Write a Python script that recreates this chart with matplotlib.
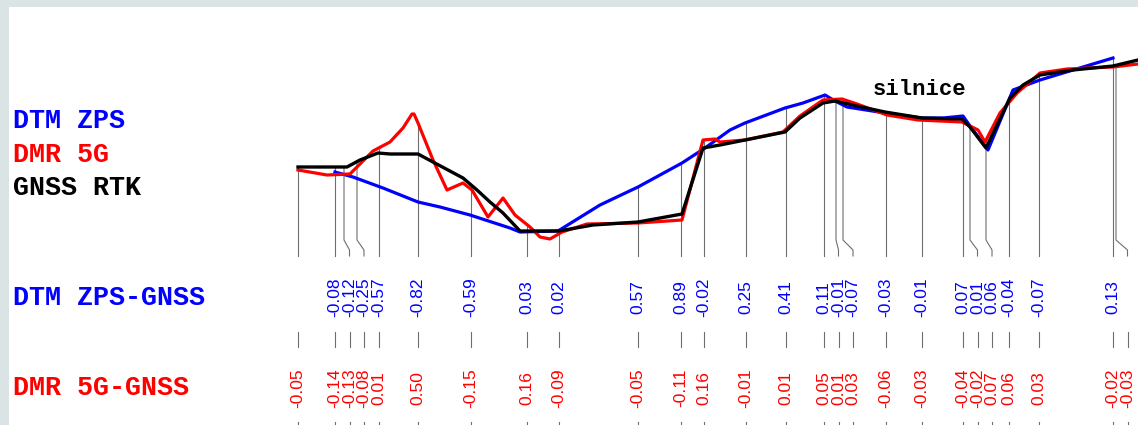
import numpy as np
import matplotlib
matplotlib.use("Agg")
import matplotlib.pyplot as plt

# ── podélný profil: staničení [m], výška [m] ─────────────────────────────
gnss_x = [0, 49, 62, 80, 92, 120, 135, 165, 179, 192, 205, 222, 261, 295,
          340, 384, 405, 422, 447, 487, 502, 525, 537, 559, 587, 624, 664,
          672, 688, 712, 725, 742, 775, 815, 840]
gnss_z = [413.26, 413.26, 413.40, 413.54, 413.52, 413.52, 413.36, 413.04,
          412.80, 412.56, 412.34, 411.98, 411.98, 412.10, 412.16, 412.32,
          413.64, 413.70, 413.80, 413.96, 414.24, 414.54, 414.58, 414.48,
          414.36, 414.24, 414.22, 414.06, 413.64, 414.64, 414.90, 415.10,
          415.20, 415.28, 415.40]

dmr_x = [0, 29, 52, 64, 75, 92, 105, 114, 116, 120, 135, 149, 165, 174, 190,
         205, 217, 232, 242, 252, 264, 289, 340, 384, 405, 417, 422, 447, 485,
         502, 525, 544, 559, 589, 620, 664, 680, 687, 702, 719, 742, 769, 815,
         840]
dmr_z = [413.20, 413.10, 413.12, 413.36, 413.58, 413.76, 414.04, 414.32,
         414.32, 414.14, 413.40, 412.80, 412.94, 412.80, 412.26, 412.64,
         412.30, 412.06, 411.86, 411.82, 411.96, 412.12, 412.14, 412.20,
         413.80, 413.82, 413.76, 413.80, 413.96, 414.28, 414.60, 414.62,
         414.52, 414.30, 414.20, 414.16, 414.00, 413.76, 414.34, 414.74,
         415.14, 415.22, 415.26, 415.32]

zps_x = [37, 55, 85, 120, 142, 172, 212, 222, 260, 302, 340, 384, 407, 432,
         447, 487, 505, 527, 537, 549, 587, 624, 645, 665, 672, 690, 715, 742,
         775, 815]
zps_z = [413.16, 413.06, 412.84, 412.56, 412.46, 412.30, 412.04, 411.96,
         411.98, 412.50, 412.86, 413.34, 413.64, 414.00, 414.14, 414.44,
         414.54, 414.70, 414.58, 414.46, 414.34, 414.24, 414.24, 414.28,
         414.08, 413.60, 414.80, 415.00, 415.20, 415.44]

# ── kontrolní body ────────────────────────────────────────────────────────
stanice = [0, 37, 46, 59, 81, 120, 173, 229, 261, 340, 383, 406, 448, 488,
           526, 538, 545, 588, 624, 665, 672, 688, 711, 741, 815, 818]
rozdil_zps = [-0.08, -0.12, -0.25, -0.57, -0.82, -0.59, 0.03, 0.02, 0.57,
              0.89, -0.02, 0.25, 0.41, 0.11, -0.01, -0.07, -0.03, -0.01,
              0.07, 0.01, 0.06, -0.04, -0.07, 0.13]        # body 2..25
rozdil_5g = [-0.05, -0.14, -0.13, -0.08, 0.01, 0.50, -0.15, 0.16, -0.09,
             -0.05, -0.11, 0.16, -0.01, 0.01, 0.05, 0.01, 0.03, -0.06,
             -0.03, -0.04, -0.02, 0.07, 0.06, 0.03, -0.02, -0.03]

MEZERA = 14.5          # minimální rozestup popisků [m]
Z_KONEC, Z_ZLOM1, Z_ZLOM2 = 411.48, 411.80, 411.60
Z_ZPS, Z_5G = 410.65, 408.84
ZNACKA1 = (409.96, 409.66)
ZNACKA2 = (408.16, 407.90)
SEDA = "#6e6e6e"

W, H = 1138, 425
fig = plt.figure(figsize=(W / 100, H / 100), dpi=100, facecolor="#dae4e4")
ax = fig.add_axes([9 / W, 0, (W - 9) / W, (H - 7) / H])
ax.set_facecolor("white")
ax.set_xlim(-289, 840)
ax.set_ylim(408.10, 416.46)
ax.set_xticks([])
ax.set_yticks([])
for s in ax.spines.values():
    s.set_visible(False)

# rozložení popisků, aby se nepřekrývaly
popis_x = []
for x in stanice:
    popis_x.append(x if not popis_x else max(x, popis_x[-1] + MEZERA))

# svislice od profilu dolů
for i, (x, lx) in enumerate(zip(stanice, popis_x)):
    vrch = [np.interp(x, gnss_x, gnss_z), np.interp(x, dmr_x, dmr_z)]
    if zps_x[0] <= x <= zps_x[-1]:
        vrch.append(np.interp(x, zps_x, zps_z))
    top = max(vrch)
    if abs(lx - x) < 0.5:
        ax.plot([x, x], [top, Z_KONEC], color=SEDA, lw=0.8, zorder=1)
    else:
        ax.plot([x, x, lx, lx], [top, Z_ZLOM1, Z_ZLOM2, Z_KONEC],
                color=SEDA, lw=0.8, zorder=1)
    ax.plot([lx, lx], ZNACKA1, color=SEDA, lw=0.8)
    ax.plot([lx, lx], ZNACKA2, color=SEDA, lw=0.8)

# hodnoty rozdílů
for lx, v in zip(popis_x[1:25], rozdil_zps):
    ax.text(lx, Z_ZPS, f"{v:.2f}", rotation=90, ha="center", va="center",
            color="#0000ff", fontsize=12.5, family="Liberation Sans")
for lx, v in zip(popis_x, rozdil_5g):
    ax.text(lx, Z_5G, f"{v:.2f}", rotation=90, ha="center", va="center",
            color="#ff0000", fontsize=12.5, family="Liberation Sans")

# profily
ax.plot(zps_x, zps_z, color="#0000ff", lw=2.3, zorder=3)
ax.plot(dmr_x, dmr_z, color="#ff0000", lw=2.3, zorder=4)
ax.plot(gnss_x, gnss_z, color="black", lw=2.4, zorder=5)

ax.text(621.5, 414.70, "silnice", ha="center", va="baseline",
        fontsize=16, family="Liberation Mono", fontweight="bold")

# legenda vlevo
leg = [("DTM ZPS", "#0000ff", 121), ("DMR 5G", "#ff0000", 155),
       ("GNSS RTK", "black", 188), ("DTM ZPS-GNSS", "#0000ff", 298),
       ("DMR 5G-GNSS", "#ff0000", 388)]
for txt, c, y in leg:
    fig.text(13 / W, 1 - y / H, txt, color=c, ha="left", va="center",
             fontsize=19.3, family="Liberation Mono", fontweight="bold")

fig.savefig("out.png", dpi=100, facecolor=fig.get_facecolor())
